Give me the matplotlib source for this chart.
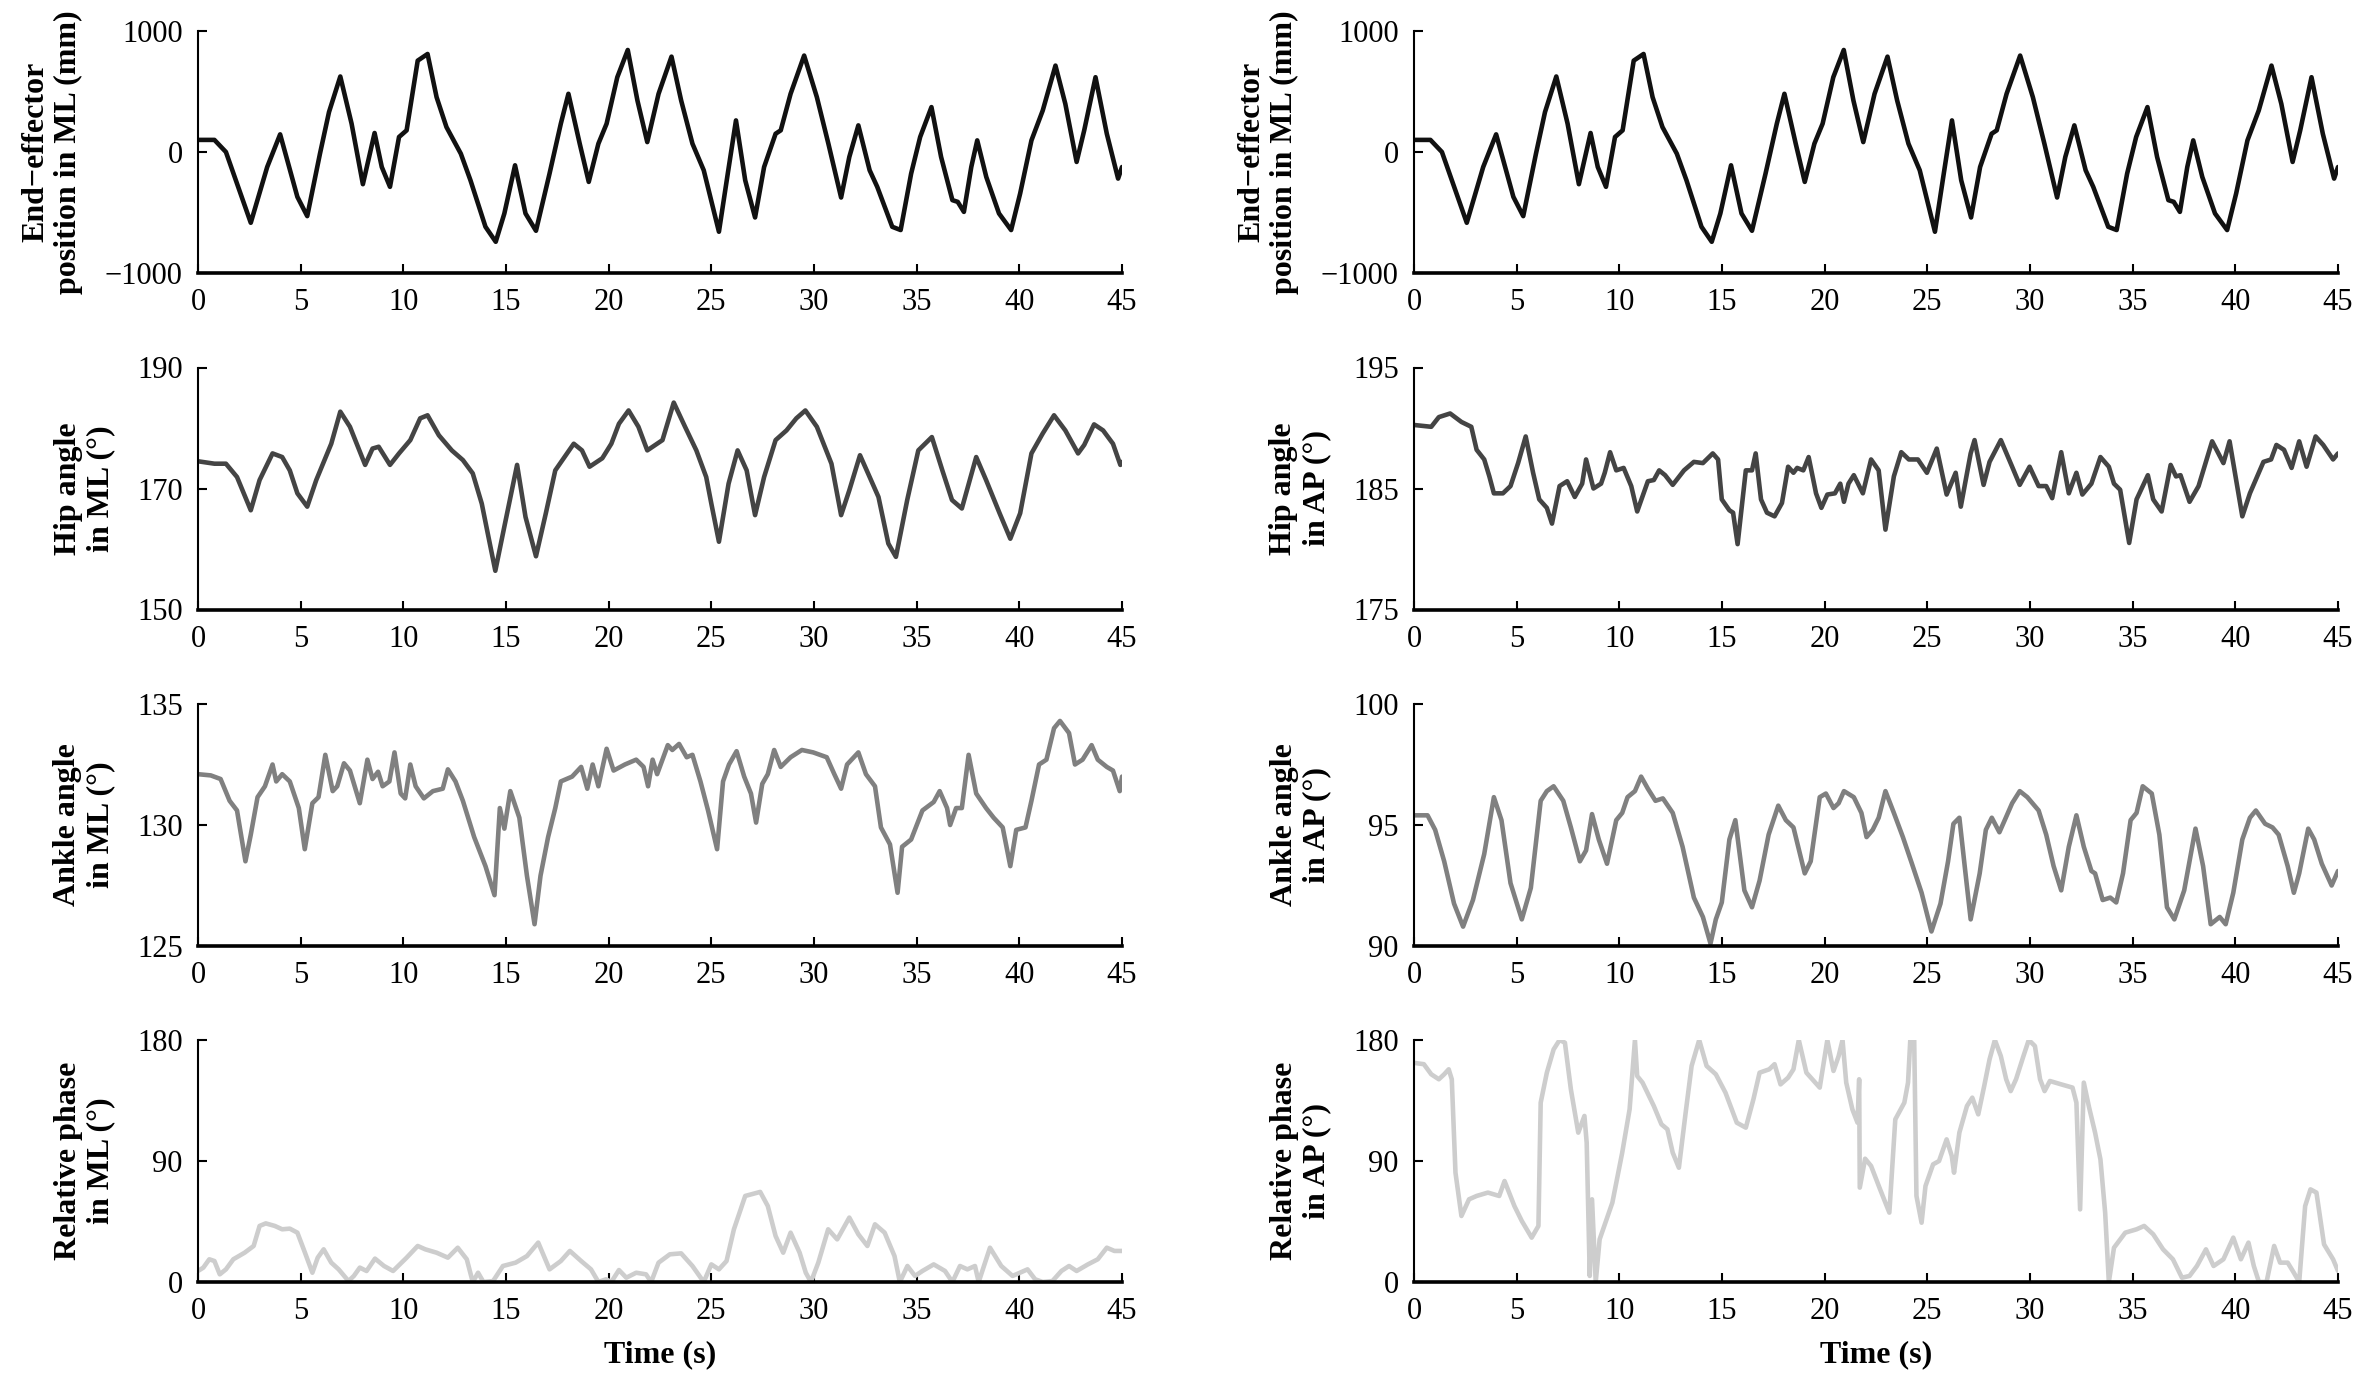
import matplotlib
matplotlib.use("Agg")
import matplotlib.pyplot as plt

plt.rcParams['font.family'] = ['Liberation Serif', 'DejaVu Serif']

# ---------------- DATA ----------------
# End-effector position in ML (mm) - same trace shown in both columns
t_ee = [0, 0.8, 1.36, 2.57, 3.37, 4.0, 4.84, 5.32, 5.94, 6.38, 6.93, 7.48, 8.03, 8.6, 8.95,
        9.35, 9.79, 10.16, 10.7, 11.18, 11.62, 12.1, 12.8, 13.27, 14.0, 14.5, 14.92, 15.44,
        15.95, 16.46, 17.12, 17.67, 18.04, 18.59, 19.03, 19.5, 19.9, 20.42, 20.93, 21.4,
        21.88, 22.43, 23.06, 23.53, 24.08, 24.63, 25.37, 25.8, 26.2, 26.65, 27.13, 27.57,
        28.13, 28.38, 28.86, 29.52, 30.14, 30.7, 31.32, 31.72, 32.16, 32.71, 33.08, 33.81,
        34.22, 34.73, 35.17, 35.72, 36.19, 36.74, 37.0, 37.3, 37.66, 37.95, 38.39, 39.01,
        39.6, 40.04, 40.59, 41.14, 41.76, 42.24, 42.79, 43.16, 43.71, 44.26, 44.81, 45.0]
ee_ml = [100, 100, 0, -585, -124, 146, -371, -530, -14, 330, 624, 234, -266, 157, -124,
         -288, 124, 179, 755, 810, 453, 206, -14, -234, -618, -742, -508, -110,
         -508, -651, -179, 234, 481, 69, -247, 69, 234, 618, 843, 426,
         82, 481, 788, 426, 69, -151, -659, -179, 261, -234, -541, -124,
         151, 179, 481, 797, 453, 69, -376, -41, 220, -151, -288, -618,
         -645, -179, 124, 371, -41, -398, -412, -495, -124, 96, -206, -508,
         -645, -343, 96, 343, 714, 398, -82, 179, 618, 151, -220, -124]

# Hip angle in ML (deg)
t_hip_ml = [0, 0.8, 1.36, 1.9, 2.57, 3.0, 3.63, 4.1, 4.47, 4.84, 5.32, 5.76, 6.49, 6.93, 7.4,
            8.14, 8.5, 8.8, 9.35, 9.79, 10.34, 10.82, 11.18, 11.73, 12.36, 12.9, 13.38, 13.82,
            14.11, 14.48, 14.92, 15.54, 15.95, 16.46, 16.94, 17.4, 17.85, 18.3, 18.7, 19.07,
            19.69, 20.13, 20.5, 20.97, 21.45, 21.88, 22.62, 23.17, 23.72, 24.27, 24.75, 25.0,
            25.37, 25.84, 26.28, 26.72, 27.13, 27.57, 28.13, 28.66, 29.14, 29.58, 30.14, 30.85,
            31.32, 31.72, 32.24, 32.71, 33.14, 33.62, 33.99, 34.54, 35.08, 35.74, 36.25, 36.72,
            37.2, 37.9, 38.38, 39.04, 39.56, 40.04, 40.59, 41.14, 41.69, 42.24, 42.86, 43.16,
            43.64, 44.08, 44.56, 44.92, 45.0]
hip_ml = [174.5, 174.1, 174.1, 171.9, 166.4, 171.4, 175.8, 175.2, 173.0, 169.2, 167.0, 171.4,
          177.4, 182.7, 180.2, 173.9, 176.6, 176.9, 173.9, 175.8, 178.0, 181.6, 182.1, 178.8,
          176.3, 174.7, 172.5, 167.5, 162.6, 156.4, 163.7, 173.9, 165.3, 158.8, 165.9, 173.0,
          175.2, 177.4, 176.3, 173.6, 175.0, 177.4, 180.7, 182.9, 180.2, 176.3, 178.0, 184.2,
          180.2, 176.3, 171.9, 167.5, 161.2, 170.8, 176.3, 173.0, 165.6, 171.9, 178.0, 179.6,
          181.6, 182.9, 180.2, 174.1, 165.6, 169.7, 175.5, 171.9, 168.6, 160.9, 158.7, 168.1,
          176.3, 178.5, 173.0, 168.1, 166.7, 175.2, 171.4, 165.9, 161.7, 165.9, 175.8, 179.1,
          182.1, 179.6, 175.8, 177.2, 180.6, 179.6, 177.4, 173.9, 174.4]

# Ankle angle in ML (deg)
t_ank_ml = [0, 0.62, 1.1, 1.54, 1.9, 2.31, 2.57, 2.9, 3.26, 3.63, 3.81, 4.1, 4.47, 4.91, 5.2,
            5.57, 5.87, 6.2, 6.56, 6.78, 7.11, 7.4, 7.63, 7.88, 8.25, 8.5, 8.77, 8.99, 9.32,
            9.57, 9.87, 10.09, 10.34, 10.6, 11.0, 11.44, 11.92, 12.17, 12.54, 12.9, 13.45, 14.0,
            14.44, 14.7, 14.92, 15.21, 15.65, 16.02, 16.39, 16.68, 17.05, 17.4, 17.67, 18.22,
            18.66, 18.96, 19.22, 19.5, 19.9, 20.24, 20.79, 21.34, 21.7, 21.92, 22.14, 22.36,
            22.88, 23.1, 23.43, 23.8, 24.08, 24.47, 24.84, 25.28, 25.57, 25.86, 26.23, 26.6,
            26.93, 27.18, 27.48, 27.75, 28.06, 28.38, 28.86, 29.41, 29.96, 30.62, 30.99, 31.32,
            31.61, 32.16, 32.53, 32.97, 33.26, 33.7, 34.07, 34.29, 34.73, 35.28, 35.83, 36.12,
            36.48, 36.63, 36.92, 37.2, 37.53, 37.9, 38.38, 38.75, 39.19, 39.56, 39.85, 40.3,
            40.59, 40.96, 41.32, 41.69, 41.98, 42.42, 42.71, 43.08, 43.52, 43.82, 44.26, 44.56,
            44.89, 45.0]
ank_ml = [132.1, 132.05, 131.9, 131.0, 130.6, 128.5, 129.6, 131.15, 131.6, 132.5, 131.8, 132.1,
          131.8, 130.7, 129.0, 130.9, 131.15, 132.9, 131.4, 131.6, 132.55, 132.25, 131.6, 130.9,
          132.7, 131.9, 132.2, 131.6, 131.8, 133.0, 131.3, 131.1, 132.5, 131.6, 131.1, 131.4,
          131.5, 132.3, 131.8, 131.0, 129.5, 128.3, 127.1, 130.7, 129.85, 131.4, 130.3, 127.9,
          125.9, 127.9, 129.5, 130.7, 131.8, 132.0, 132.4, 131.5, 132.5, 131.6, 133.15, 132.25,
          132.5, 132.7, 132.4, 131.6, 132.7, 132.1, 133.3, 133.1, 133.35, 132.8, 132.9, 131.8,
          130.6, 129.0, 131.8, 132.5, 133.05, 132.0, 131.3, 130.1, 131.7, 132.1, 133.1, 132.4,
          132.8, 133.1, 133.0, 132.8, 132.1, 131.5, 132.5, 133.0, 132.1, 131.6, 129.9, 129.2,
          127.2, 129.1, 129.4, 130.6, 130.95, 131.4, 130.7, 130.0, 130.7, 130.7, 132.9, 131.3,
          130.7, 130.3, 129.9, 128.3, 129.8, 129.9, 131.0, 132.5, 132.7, 134.0, 134.3, 133.8,
          132.5, 132.7, 133.3, 132.7, 132.4, 132.25, 131.4, 132.0]

# Relative phase in ML (deg)
t_ph_ml = [0, 0.26, 0.55, 0.8, 1.06, 1.36, 1.72, 2.27, 2.71, 3.0, 3.3, 3.74, 4.1, 4.47, 4.84,
           5.21, 5.57, 5.83, 6.12, 6.49, 6.85, 7.33, 7.59, 7.88, 8.21, 8.62, 9.06, 9.5, 10.16,
           10.7, 11.07, 11.62, 12.17, 12.65, 13.09, 13.38, 13.64, 13.9, 14.37, 14.85, 15.47,
           16.02, 16.57, 17.12, 17.67, 18.11, 18.66, 19.14, 19.5, 19.87, 20.13, 20.5, 20.86,
           21.34, 21.82, 22.07, 22.43, 22.98, 23.53, 24.08, 24.63, 25.0, 25.37, 25.74, 26.1,
           26.65, 27.38, 27.75, 28.13, 28.5, 28.86, 29.3, 29.6, 29.85, 30.21, 30.69, 31.13,
           31.72, 32.16, 32.6, 32.97, 33.44, 33.92, 34.18, 34.55, 34.92, 35.28, 35.83, 36.38,
           36.74, 37.11, 37.47, 37.84, 38.02, 38.57, 39.12, 39.67, 40.4, 40.77, 41.14, 41.61,
           42.05, 42.42, 42.79, 43.34, 43.82, 44.26, 44.63, 45.0]
ph_ml = [8.2, 10.7, 16.9, 15.6, 5.7, 9.4, 16.9, 21.8, 26.8, 41.7, 43.6, 41.7, 39.2, 39.7, 36.7,
         21.8, 6.9, 18.1, 24.3, 14.4, 9.4, 0.7, 4.5, 10.7, 8.2, 17.4, 11.9, 8.2, 18.1,
         26.8, 24.3, 21.8, 18.1, 25.5, 16.9, 0.0, 6.9, 0.0, 0.7, 11.9, 14.4,
         19.3, 29.3, 9.4, 15.6, 23.1, 15.6, 9.4, 0.0, 2.0, 0.0, 8.9, 3.2,
         6.9, 5.7, 0.0, 14.4, 20.6, 21.3, 11.9, 0.0, 13.1, 9.4, 15.6, 39.2,
         64.0, 67.0, 56.5, 34.2, 21.8, 36.7, 21.8, 6.9, 0.0, 14.4, 39.2, 31.7,
         47.9, 35.5, 26.8, 42.9, 36.7, 19.3, 0.0, 11.9, 4.5, 8.2, 13.1, 8.2,
         0.0, 11.9, 9.4, 11.9, 0.0, 25.5, 11.9, 4.5, 9.4, 2.0, 0.0, 0.7,
         8.2, 11.9, 8.2, 13.1, 16.9, 25.5, 23.1, 23.1]

# Hip angle in AP (deg)
t_hip_ap = [0, 0.84, 1.21, 1.76, 2.31, 2.79, 3.05, 3.42, 3.67, 3.89, 4.33, 4.7, 5.07, 5.44, 5.8,
            6.1, 6.47, 6.72, 7.09, 7.46, 7.83, 8.19, 8.38, 8.74, 9.11, 9.29, 9.55, 9.85, 10.21,
            10.58, 10.87, 11.39, 11.68, 11.94, 12.23, 12.6, 13.15, 13.63, 14.07, 14.55, 14.81,
            14.99, 15.36, 15.54, 15.76, 16.16, 16.46, 16.64, 16.9, 17.19, 17.56, 17.92, 18.22,
            18.48, 18.66, 18.96, 19.22, 19.58, 19.84, 20.13, 20.5, 20.76, 20.94, 21.16, 21.42,
            21.86, 22.26, 22.63, 22.96, 23.37, 23.73, 24.1, 24.54, 24.98, 25.46, 25.94, 26.38,
            26.63, 27.11, 27.3, 27.74, 28.03, 28.58, 29.13, 29.5, 29.98, 30.42, 30.79, 31.08,
            31.52, 31.89, 32.26, 32.55, 32.99, 33.43, 33.84, 34.09, 34.39, 34.83, 35.19, 35.74,
            36.0, 36.41, 36.85, 37.11, 37.33, 37.77, 38.21, 38.87, 39.42, 39.72, 40.34, 40.71,
            41.37, 41.74, 42.0, 42.37, 42.74, 43.11, 43.47, 43.91, 44.28, 44.76, 45.0]
hip_ap = [190.25, 190.1, 190.9, 191.2, 190.5, 190.1, 188.2, 187.4, 186.0, 184.6, 184.6, 185.2,
          187.1, 189.3, 186.3, 184.1, 183.4, 182.1, 185.2, 185.6, 184.3, 185.4, 187.4, 185.0,
          185.4, 186.3, 188.0, 186.5, 186.7, 185.2, 183.1, 185.6, 185.7, 186.5, 186.1, 185.3,
          186.5, 187.2, 187.1, 187.9, 187.4, 184.1, 183.2, 183.0, 180.4, 186.5, 186.5, 187.9,
          184.1, 183.0, 182.7, 183.8, 186.8, 186.3, 186.7, 186.5, 187.6, 184.6, 183.4, 184.5,
          184.6, 185.4, 183.9, 185.4, 186.1, 184.6, 187.4, 186.5, 181.6, 186.0, 188.0, 187.4,
          187.4, 186.3, 188.3, 184.5, 186.3, 183.5, 187.9, 189.0, 185.3, 187.2, 189.0, 186.8,
          185.3, 186.8, 185.2, 185.2, 184.2, 188.0, 184.6, 186.3, 184.5, 185.4, 187.6, 186.8,
          185.4, 184.9, 180.5, 184.1, 186.1, 184.1, 183.1, 186.95, 186.0, 186.1, 183.9, 185.2,
          188.9, 187.1, 188.9, 182.7, 184.6, 187.2, 187.4, 188.6, 188.2, 186.7, 188.9, 186.8,
          189.3, 188.6, 187.4, 187.9]

# Ankle angle in AP (deg)
t_ank_ap = [0, 0.66, 1.03, 1.47, 1.95, 2.39, 2.87, 3.42, 3.89, 4.26, 4.7, 5.25, 5.69, 6.17,
            6.47, 6.8, 7.27, 7.64, 8.08, 8.38, 8.67, 9.0, 9.4, 9.85, 10.14, 10.4, 10.76, 11.06,
            11.39, 11.76, 12.12, 12.6, 13.08, 13.63, 14.07, 14.44, 14.7, 14.99, 15.36, 15.65,
            16.09, 16.46, 16.83, 17.27, 17.74, 18.11, 18.48, 19.03, 19.32, 19.76, 20.06, 20.43,
            20.68, 20.94, 21.42, 21.79, 22.04, 22.34, 22.63, 22.96, 23.37, 23.81, 24.25, 24.72,
            25.2, 25.64, 26.01, 26.27, 26.56, 26.82, 27.11, 27.55, 27.85, 28.14, 28.51, 28.77,
            29.13, 29.5, 29.87, 30.42, 30.79, 31.15, 31.52, 31.89, 32.26, 32.62, 32.99, 33.17,
            33.54, 33.91, 34.2, 34.53, 34.9, 35.19, 35.49, 35.93, 36.3, 36.67, 37.03, 37.51,
            38.06, 38.43, 38.8, 39.24, 39.53, 39.9, 40.34, 40.71, 41.0, 41.45, 41.81, 42.11,
            42.55, 42.85, 43.11, 43.55, 43.84, 44.21, 44.69, 45.0]
ank_ap = [95.4, 95.4, 94.8, 93.5, 91.75, 90.8, 91.9, 93.8, 96.15, 95.2, 92.6, 91.1, 92.4, 96.0,
          96.4, 96.6, 96.0, 94.9, 93.5, 93.95, 95.45, 94.4, 93.4, 95.2, 95.5, 96.15, 96.4, 97.0,
          96.5, 96.0, 96.1, 95.5, 94.1, 92.0, 91.2, 90.1, 91.1, 91.8, 94.4, 95.2,
          92.3, 91.6, 92.7, 94.6, 95.8, 95.2, 94.9, 93.0, 93.5, 96.15, 96.3, 95.7,
          95.9, 96.4, 96.15, 95.5, 94.5, 94.8, 95.3, 96.4, 95.5, 94.5, 93.4, 92.2,
          90.6, 91.75, 93.5, 95.05, 95.3, 93.3, 91.1, 93.0, 94.8, 95.3, 94.7, 95.2,
          95.9, 96.4, 96.15, 95.6, 94.6, 93.3, 92.3, 94.1, 95.4, 94.1, 93.1, 93.0,
          91.9, 92.0, 91.8, 93.0, 95.2, 95.5, 96.6, 96.3, 94.6, 91.6, 91.1, 92.3,
          94.85, 93.3, 90.9, 91.2, 90.9, 92.2, 94.4, 95.3, 95.6, 95.05, 94.9, 94.6,
          93.3, 92.2, 93.0, 94.85, 94.4, 93.4, 92.5, 93.1]

# Relative phase in AP (deg)
t_ph_ap = [0, 0.48, 0.84, 1.21, 1.47, 1.69, 1.84, 2.02, 2.31, 2.68, 3.05, 3.6, 4.15, 4.41, 4.89,
           5.25, 5.73, 6.06, 6.17, 6.47, 6.8, 7.09, 7.35, 7.64, 8.0, 8.3, 8.41, 8.56,
           8.67, 8.85, 9.04, 9.66, 10.14, 10.5, 10.76, 10.87, 11.13, 11.68, 12.05, 12.34, 12.6,
           12.9, 13.23, 13.52, 13.89, 14.25, 14.7, 15.17, 15.72, 16.16, 16.53, 16.83, 17.3,
           17.56, 17.85, 18.22, 18.48, 18.74, 19.11, 19.76, 20.13, 20.43, 20.68, 20.87, 21.05,
           21.35, 21.6, 21.68, 21.71, 21.97, 22.26, 22.7, 23.15, 23.44, 23.88, 24.06, 24.17,
           24.36, 24.47, 24.72, 24.91, 25.28, 25.57, 25.94, 26.19, 26.3, 26.56, 26.93, 27.19,
           27.48, 27.77, 28.03, 28.29, 28.58, 28.84, 29.06, 29.32, 29.68, 29.94, 30.24, 30.49,
           30.71, 30.97, 31.52, 32.07, 32.26, 32.44, 32.62, 32.88, 33.17, 33.43, 33.66, 33.84,
           34.09, 34.64, 35.19, 35.56, 36.0, 36.48, 36.96, 37.4, 37.77, 38.13, 38.57, 38.94,
           39.42, 39.9, 40.27, 40.64, 40.9, 41.15, 41.52, 41.89, 42.18, 42.55, 42.85, 43.11,
           43.4, 43.66, 43.95, 44.32, 44.76, 45.0]
ph_ap = [163, 162, 154.5, 150.8, 154.5, 158.2, 150.8, 81.3, 49.1, 61.5, 64, 66.5, 64, 75.1, 56.5,
         45.4, 33, 41.7, 133.4, 155.7, 173, 180, 178, 143.3, 111.1, 123.5, 103.6, 4.5,
         61.5, 0, 31.7, 59, 96.2, 128.4, 180, 153.2, 148.3, 130.9, 117.3, 113.6, 96.2,
         85, 126, 160.7, 180, 160.7, 154.5, 140.8, 118.5, 114.8, 135.9, 155.7, 158.2,
         162, 147, 152, 158.2, 180, 155.7, 144.6, 180, 157, 168, 180, 148.3,
         128.4, 118.5, 150.8, 70.2, 91.7, 86.3, 68.9, 51.6, 121, 133.4, 148.3, 180,
         180, 64, 44.1, 71.4, 87.5, 90, 106.1, 93.7, 81.3, 111.1, 130.9, 137.1,
         124.7, 145.8, 165.6, 180, 168, 150.8, 142, 150.8, 168, 180, 175.5, 150.8,
         142, 149.5, 147, 144.6, 133.4, 54, 148.3, 129.7, 111.1, 91.2, 51.6, 0,
         25.5, 36.7, 39.2, 41.7, 35.5, 24.3, 16.9, 3.2, 4.5, 11.9, 24.3, 11.9,
         16.9, 33, 16.9, 29.3, 11.9, 0, 0, 26.8, 14.4, 14.4, 6.9, 0,
         56.5, 68.9, 66.5, 28, 16.9, 8.2]

# Labels, limits and ticks
ylabels_left = ["End\u2212effector\nposition in ML (mm)", "Hip angle\nin ML (\u00b0)",
                "Ankle angle\nin ML (\u00b0)", "Relative phase\nin ML (\u00b0)"]
ylabels_right = ["End\u2212effector\nposition in ML (mm)", "Hip angle\nin AP (\u00b0)",
                 "Ankle angle\nin AP (\u00b0)", "Relative phase\nin AP (\u00b0)"]
yticks_left = [[-1000, 0, 1000], [150, 170, 190], [125, 130, 135], [0, 90, 180]]
yticks_right = [[-1000, 0, 1000], [175, 185, 195], [90, 95, 100], [0, 90, 180]]
xticks = list(range(0, 46, 5))
xlabel = "Time (s)"

left_series = [(t_ee, ee_ml), (t_hip_ml, hip_ml), (t_ank_ml, ank_ml), (t_ph_ml, ph_ml)]
right_series = [(t_ee, ee_ml), (t_hip_ap, hip_ap), (t_ank_ap, ank_ap), (t_ph_ap, ph_ap)]
row_colors = ["#111111", "#444444", "#808080", "#cdcdcd"]

# ---------------- FIGURE ----------------
W, H = 2362, 1389
fig = plt.figure(figsize=(W / 100, H / 100), dpi=100)

ax_w = 924 / W
ax_h = 242 / H
col_x = [198 / W, 1414 / W]
row_bottom = [1 - 273 / H, 1 - 609.5 / H, 1 - 946 / H, 1 - 1282 / H]

for c, (series, labels, ticks) in enumerate([(left_series, ylabels_left, yticks_left),
                                             (right_series, ylabels_right, yticks_right)]):
    for r in range(4):
        ax = fig.add_axes([col_x[c], row_bottom[r], ax_w, ax_h])
        t, v = series[r]
        ax.plot(t, v, color=row_colors[r], lw=3.3, solid_joinstyle='round',
                solid_capstyle='round', zorder=2)
        ax.set_xlim(0, 45)
        ax.set_ylim(ticks[r][0], ticks[r][-1])
        ax.set_xticks(xticks)
        ax.set_yticks(ticks[r])
        for s in ["top", "right"]:
            ax.spines[s].set_visible(False)
        ax.spines["left"].set_linewidth(1.5)
        ax.spines["bottom"].set_linewidth(2.6)
        ax.spines["left"].set_zorder(3)
        ax.spines["bottom"].set_zorder(3)
        ax.tick_params(axis='both', direction='in', length=6.5, width=1.5,
                       labelsize=22, color='black')
        ax.tick_params(axis='x', pad=11)
        ax.tick_params(axis='y', pad=11)
        ax.set_ylabel(labels[r], fontsize=23, fontweight='bold', labelpad=16,
                      linespacing=1.15)
        if r == 3:
            ax.set_xlabel(xlabel, fontsize=23, fontweight='bold', labelpad=10)

fig.savefig("out.png", dpi=100)
